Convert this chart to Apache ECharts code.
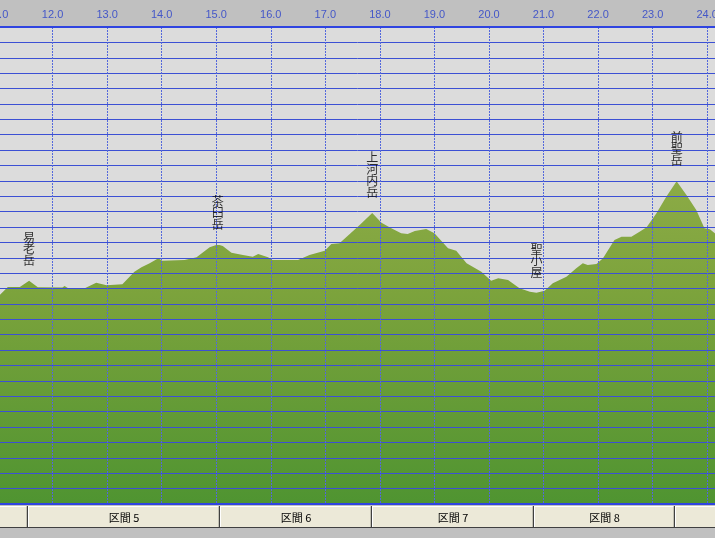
<!DOCTYPE html>
<html>
<head>
<meta charset="utf-8">
<script src="https://cdn.jsdelivr.net/npm/echarts@6/dist/echarts.min.js"></script>
<style>
html,body{margin:0;padding:0;background:#c0c0c0;}
#chart{width:715px;height:538px;}
</style>
</head>
<body>
<div id="chart"></div>
<script>
// distance along route (km)
const distanceKm = [11.00, 11.03, 11.18, 11.40, 11.57, 11.73, 12.18, 12.22, 12.28, 12.59, 12.80, 12.99, 13.28, 13.50, 13.63, 13.78, 13.94, 14.01, 14.42, 14.64, 14.88, 15.00, 15.06, 15.12, 15.28, 15.49, 15.67, 15.77, 15.95, 16.03, 16.50, 16.71, 16.99, 17.11, 17.26, 17.63, 17.86, 18.03, 18.21, 18.39, 18.51, 18.64, 18.85, 19.00, 19.25, 19.40, 19.59, 19.86, 20.04, 20.17, 20.35, 20.56, 20.75, 20.87, 21.02, 21.17, 21.42, 21.60, 21.72, 21.81, 21.97, 22.09, 22.30, 22.43, 22.61, 22.76, 22.89, 23.07, 23.25, 23.44, 23.62, 23.80, 23.95, 24.05, 24.14, 24.20];
// elevation (m)
const elevationM = [2245, 2258, 2310, 2310, 2351, 2308, 2307, 2317, 2304, 2302, 2338, 2321, 2328, 2410, 2438, 2464, 2497, 2481, 2486, 2503, 2568, 2583, 2583, 2577, 2533, 2518, 2507, 2525, 2503, 2486, 2486, 2518, 2546, 2590, 2594, 2713, 2792, 2728, 2692, 2659, 2655, 2674, 2687, 2659, 2562, 2546, 2464, 2410, 2351, 2367, 2356, 2302, 2280, 2273, 2286, 2334, 2377, 2432, 2464, 2453, 2460, 2497, 2616, 2637, 2637, 2670, 2698, 2789, 2897, 2998, 2908, 2811, 2692, 2685, 2659, 2650];

// named points
const placeNames = ['易老岳', '茶臼岳', '上河内岳', '聖小屋', '前聖岳'];
const placeKm = [11.57, 15.03, 17.86, 20.87, 23.44];
const placeElev = [2351, 2583, 2792, 2273, 2998];

// sections (bottom bar)
const sectionStart = [11.00, 11.555, 15.07, 17.85, 20.83, 23.41];
const sectionEnd = [11.555, 15.07, 17.85, 20.83, 23.41, 24.30];
const sectionNames = ['', '区間 5', '区間 6', '区間 7', '区間 8', ''];

// axis
const xMin = 11, xMax = 24.18, xStep = 1;
const yMin = 900, yMax = 4000, yStep = 100;

const chart = echarts.init(document.getElementById('chart'), null, {renderer: 'canvas'});

const profile = distanceKm.map((d, i) => [d, elevationM[i]]);
const places = placeKm.map((d, i) => ({value: [d, placeElev[i]], name: placeNames[i]}));
const sections = sectionStart.map((s, i) => [s, sectionEnd[i]]);

function renderCell(params, api) {
  const s = api.value(0), e = api.value(1);
  const p1 = api.coord([s, 1]);
  const p2 = api.coord([e, 0]);
  const x1 = Math.round(p1[0]), x2 = Math.round(p2[0]);
  const y1 = Math.round(p1[1]), y2 = Math.round(p2[1]);
  const name = sectionNames[params.dataIndex];
  return {
    type: 'group',
    children: [
      {type: 'rect', shape: {x: x1, y: y1, width: x2 - x1, height: y2 - y1}, style: {fill: '#ece9d8'}},
      {type: 'line', shape: {x1: x1, y1: y1 + 0.5, x2: x2, y2: y1 + 0.5}, style: {stroke: '#ffffff', lineWidth: 1}},
      {type: 'line', shape: {x1: x1 + 0.5, y1: y1, x2: x1 + 0.5, y2: y2}, style: {stroke: '#ffffff', lineWidth: 1}},
      {type: 'line', shape: {x1: x1, y1: y2 - 0.5, x2: x2, y2: y2 - 0.5}, style: {stroke: '#404040', lineWidth: 1}},
      {type: 'line', shape: {x1: x2 - 0.5, y1: y1, x2: x2 - 0.5, y2: y2}, style: {stroke: '#404040', lineWidth: 1.5}},
      {type: 'text', style: {text: name, x: (x1 + x2) / 2, y: (y1 + y2) / 2 + 1, align: 'center', verticalAlign: 'middle', fill: '#000000', font: '11px "Noto Sans CJK JP"'}}
    ]
  };
}

const option = {
  backgroundColor: '#c0c0c0',
  animation: false,
  grid: [
    {left: -2, right: -2, top: 27, bottom: 34, show: true, backgroundColor: '#dcdcdc', borderWidth: 0,
      containLabel: false, outerBoundsMode: 'none'},
    {left: -2, right: -2, top: 506, height: 22, show: false, containLabel: false, outerBoundsMode: 'none'}
  ],
  xAxis: [
    {
      type: 'value', gridIndex: 0, position: 'top', min: xMin, max: xMax, interval: xStep, z: 5,
      axisLine: {show: true, lineStyle: {color: '#2f44e0', width: 2}},
      axisTick: {show: false},
      axisLabel: {show: true, color: '#4457c8', fontFamily: 'Liberation Sans', fontSize: 11, margin: 7,
        hideOverlap: false, formatter: v => v.toFixed(1)},
      splitLine: {show: true, lineStyle: {color: '#5468dc', width: 1, type: [2, 1]}}
    },
    {
      type: 'value', gridIndex: 0, position: 'bottom', min: xMin, max: xMax, interval: xStep, z: 5,
      axisLine: {show: true, lineStyle: {color: '#2f44e0', width: 2}},
      axisTick: {show: false}, axisLabel: {show: false}, splitLine: {show: false}
    },
    {type: 'value', gridIndex: 1, min: xMin, max: xMax, show: false}
  ],
  yAxis: [
    {
      type: 'value', gridIndex: 0, min: yMin, max: yMax, interval: yStep, z: 5,
      axisLine: {show: false}, axisTick: {show: false}, axisLabel: {show: false},
      splitLine: {show: true, interval: 0, lineStyle: {color: '#3c50d4', width: 1}}
    },
    {type: 'value', gridIndex: 1, min: 0, max: 1, show: false}
  ],
  series: [
    {
      type: 'line', xAxisIndex: 0, yAxisIndex: 0, data: profile, symbol: 'none', smooth: false,
      lineStyle: {width: 0},
      areaStyle: {
        opacity: 1,
        color: {type: 'linear', x: 0, y: 180, x2: 0, y2: 504, global: true,
          colorStops: [{offset: 0, color: '#8cab46'}, {offset: 0.35, color: '#7ca33c'}, {offset: 1, color: '#4f9431'}]}
      },
      z: 2
    },
    {
      type: 'scatter', xAxisIndex: 0, yAxisIndex: 0, data: places, symbolSize: 0, z: 8,
      label: {
        show: true, position: 'top', distance: 15,
        formatter: p => p.name.split('').join('\n'),
        color: '#000000', fontFamily: 'Noto Sans CJK JP', fontSize: 12, lineHeight: 11.5
      }
    },
    {
      type: 'custom', xAxisIndex: 2, yAxisIndex: 1, data: sections, renderItem: renderCell, z: 3
    }
  ]
};
chart.setOption(option);
</script>
</body>
</html>
